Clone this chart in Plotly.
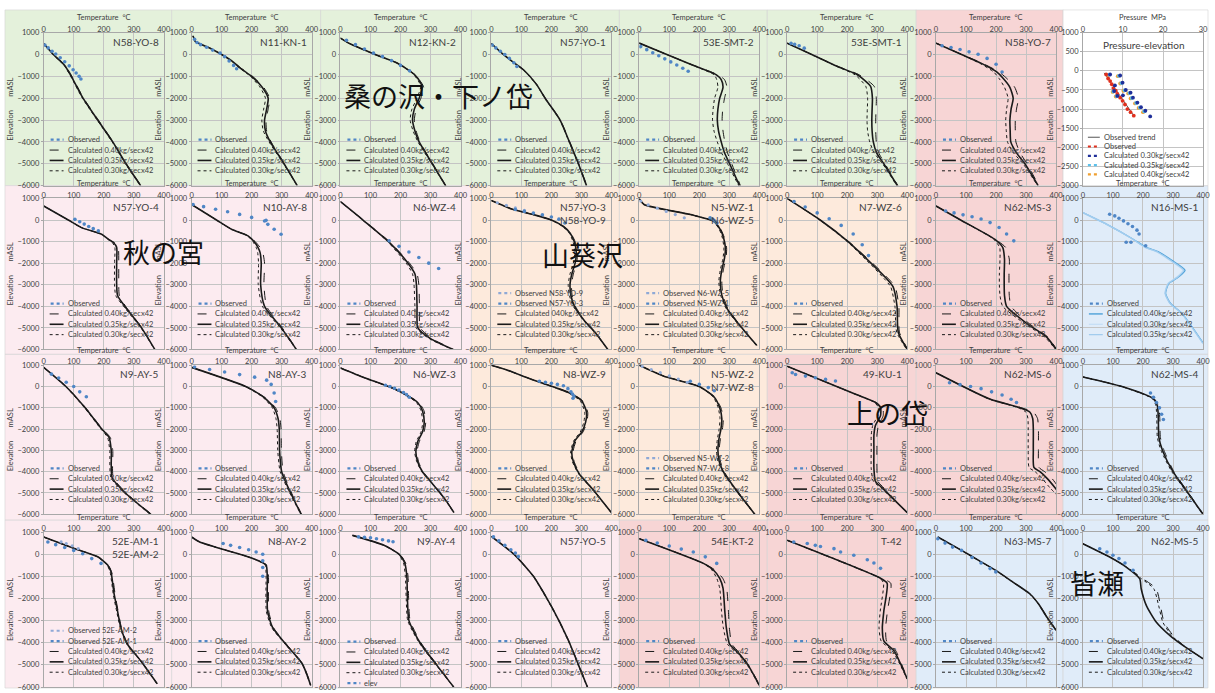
import plotly.graph_objects as go

W, H = 1215, 693

# ---------------- data (temperature degC vs elevation mASL) ----------------
N58_YO_8 = dict(z=[500, 0, -500, -1000, -2000, -3000, -4000, -5000, -6000],
                c40=[0, 33, 72, 94, 133, 182, 231, 275, 324],
                c35=[0, 32, 70, 92, 131, 180, 230, 274, 323],
                c30=[0, 31, 68, 90, 129, 178, 228, 272, 322],
                ot=[4, 15, 28, 40, 55, 70, 85, 98, 108, 118, 124],
                oz=[430, 300, 150, 20, -150, -330, -520, -700, -850, -1000, -1120])
N11_KN_1 = dict(z=[850, 600, 300, 0, -300, -600, -1000, -1500, -2000, -2500, -3000, -3500, -4000, -5000, -6000],
                c40=[5, 12, 60, 100, 135, 162, 203, 240, 260, 255, 248, 250, 265, 309, 352],
                c35=[5, 12, 60, 100, 135, 160, 200, 235, 255, 250, 243, 246, 262, 308, 352],
                c30=[5, 12, 60, 100, 133, 158, 196, 228, 246, 240, 234, 239, 258, 306, 351],
                ot=[10, 18, 30, 50, 70, 95, 110, 125, 140, 150],
                oz=[700, 550, 450, 330, 200, 60, -100, -300, -500, -650])
N12_KN_2 = dict(z=[750, 500, 200, 0, -400, -900, -1300, -1500, -2000, -2500, -3000, -3500, -4000, -5000, -6000],
                c40=[0, 30, 80, 115, 190, 246, 270, 277, 268, 252, 246, 252, 265, 307, 351],
                c35=[0, 30, 80, 115, 190, 245, 267, 272, 262, 246, 240, 248, 262, 306, 350],
                c30=[0, 30, 80, 115, 190, 243, 263, 267, 255, 238, 232, 242, 258, 304, 349],
                ot=[20, 50, 80, 110, 140, 170, 200, 230],
                oz=[650, 450, 250, 60, -100, -280, -500, -750])
N57_YO_1 = dict(z=[500, 0, -250, -700, -1380, -2000, -3000, -4000, -5000, -6000],
                c40=[0, 41, 64, 108, 152, 180, 230, 261, 291, 318],
                c35=[0, 40, 63, 107, 151, 179, 229, 260, 290, 317],
                c30=[0, 40, 62, 106, 150, 178, 228, 259, 289, 316],
                ot=[3, 15, 30, 45, 60, 75, 85],
                oz=[430, 300, 150, 0, -180, -380, -550])
E53_SMT_2 = dict(z=[520, 0, -500, -930, -1150, -1500, -2000, -2500, -3000, -3500, -4000, -4500, -5000, -6000],
                 c40=[0, 92, 182, 262, 284, 292, 284, 278, 276, 279, 285, 294, 308, 337],
                 c35=[0, 92, 181, 257, 273, 279, 268, 262, 260, 264, 273, 284, 301, 334],
                 c30=[0, 91, 179, 250, 258, 262, 251, 246, 244, 249, 260, 274, 294, 331],
                 ot=[5, 25, 45, 65, 85, 105, 125, 145, 163],
                 oz=[360, 220, 80, -60, -200, -340, -480, -630, -770])
E53_SMT_1 = dict(z=[520, 0, -550, -930, -1460, -2000, -2500, -3000, -3500, -4000, -4500, -5000, -6000],
                 c40=[0, 82, 170, 240, 290, 297, 296, 295, 295, 297, 305, 326, 369],
                 c35=[0, 82, 168, 234, 278, 284, 283, 282, 283, 287, 298, 322, 367],
                 c30=[0, 81, 166, 226, 262, 268, 267, 266, 268, 275, 290, 318, 365],
                 ot=[13, 25, 40, 57],
                 oz=[515, 460, 400, 290])
N58_YO_7 = dict(z=[520, 0, -420, -800, -1100, -1500, -2000, -2500, -3000, -3500, -4000, -4500, -5000, -6000],
                c40=[0, 86, 157, 210, 236, 262, 274, 268, 264, 264, 266, 280, 303, 342],
                c35=[0, 85, 153, 202, 224, 246, 257, 250, 246, 247, 249, 268, 296, 340],
                c30=[0, 84, 148, 192, 210, 228, 240, 235, 232, 234, 238, 258, 290, 338],
                ot=[20, 50, 80, 110, 140, 170, 200, 220],
                oz=[400, 320, 230, 120, 10, -180, -450, -800])
N57_YO_4 = dict(z=[650, 0, -352, -659, -890, -1043, -1260, -2000, -3000, -3500, -4000, -5000, -6000],
                c40=[0, 82, 126, 193, 216, 235, 248, 250, 250, 252, 273, 327, 370],
                c35=[0, 82, 126, 193, 215, 232, 243, 243, 243, 246, 270, 326, 370],
                c30=[0, 82, 126, 192, 213, 228, 237, 236, 236, 240, 266, 324, 369],
                ot=[104, 120, 135, 150, 165, 182],
                oz=[30, -80, -190, -300, -400, -505])
N10_AY_8 = dict(z=[720, 0, -430, -735, -1000, -1270, -1500, -2000, -3000, -4000, -5000, -6000],
                c40=[0, 83, 133, 190, 212, 228, 237, 243, 241, 250, 302, 350],
                c35=[0, 83, 133, 188, 208, 221, 228, 232, 230, 243, 299, 349],
                c30=[0, 83, 133, 186, 204, 215, 220, 223, 222, 236, 296, 348],
                ot=[5, 40, 80, 120, 160, 200, 243, 248, 254, 275, 298],
                oz=[720, 620, 500, 380, 260, 120, -45, -15, -200, -430, -660])
N6_WZ_4 = dict(z=[850, 0, -1000, -2000, -2500, -3000, -4000, -5000, -5500, -6000],
               c40=[0, 76, 163, 230, 255, 261, 263, 266, 305, 377],
               c35=[0, 75, 160, 225, 248, 253, 255, 258, 300, 375],
               c30=[0, 74, 157, 219, 240, 245, 248, 252, 296, 373],
               ot=[162, 195, 228, 261, 294, 327],
               oz=[-967, -1220, -1480, -1740, -2000, -2250])
N57_YO_3 = dict(z=[900, 500, 250, 0, -300, -600, -1000, -1500, -2000, -2500, -3000, -3500, -4000, -4700, -5200, -6000],
                c40=[0, 70, 140, 200, 241, 264, 279, 287, 284, 273, 267, 269, 280, 313, 346, 388],
                c35=[0, 70, 140, 200, 240, 262, 276, 283, 279, 268, 262, 265, 277, 312, 345, 388],
                c30=[0, 70, 140, 199, 238, 259, 272, 278, 273, 262, 256, 260, 273, 310, 344, 387],
                ot=[80, 110, 140, 170, 200, 225, 245],
                oz=[490, 400, 320, 240, 140, 40, -135],
                ot2=[20, 50, 80, 110],
                oz2=[800, 680, 560, 450])
N5_WZ_1 = dict(z=[1000, 720, 253, -57, -446, -835, -1300, -1770, -2310, -2860, -3480, -4100, -4720, -5270, -5810],
               c40=[0, 16, 171, 249, 272, 284, 291, 289, 280, 275, 279, 295, 327, 359, 392],
               c35=[0, 16, 171, 248, 270, 281, 287, 284, 275, 270, 275, 292, 325, 358, 391],
               c30=[0, 16, 170, 246, 267, 277, 282, 279, 270, 265, 271, 289, 323, 357, 390],
               ot=[236, 245, 252, 259],
               oz=[100, 30, -50, -135],
               ot2=[5, 30, 60, 90, 120, 150],
               oz2=[880, 700, 550, 400, 250, 100])
N7_WZ_6 = dict(z=[1000, 0, -1000, -2100, -2700, -3100, -4000, -5200, -6000],
               c40=[0, 110, 205, 292, 336, 360, 372, 374, 402],
               c35=[0, 110, 203, 287, 330, 353, 366, 370, 400],
               c30=[0, 109, 200, 281, 322, 345, 359, 365, 398],
               ot=[23, 60, 100, 140, 180, 220, 250, 271],
               oz=[860, 600, 330, 60, -250, -650, -1150, -1650])
N62_MS_3 = dict(z=[650, 0, -890, -1273, -1810, -2500, -3000, -3500, -4000, -4800, -5420, -6000],
                c40=[0, 82, 197, 232, 244, 243, 243, 244, 250, 310, 372, 402],
                c35=[0, 82, 195, 222, 228, 227, 227, 228, 235, 303, 368, 400],
                c30=[0, 81, 192, 212, 213, 211, 211, 213, 222, 295, 362, 398],
                ot=[32, 60, 90, 120, 150, 180, 210, 235, 259],
                oz=[416, 330, 240, 150, 50, -120, -350, -650, -966])
N16_MS_1 = dict(z=[342, -270, -880, -1260, -1490, -1870, -2330, -2640, -2940, -3400, -3860, -4320, -4930, -5700],
                c40=[0, 89, 166, 209, 253, 296, 340, 318, 286, 275, 291, 329, 362, 400],
                c35=[0, 89, 165, 207, 250, 292, 336, 316, 285, 274, 290, 328, 361, 399],
                c30=[0, 88, 164, 205, 247, 289, 332, 313, 283, 273, 289, 327, 360, 398],
                ot=[106, 120, 135, 150, 165, 180, 187, 89, 144, 160, 209],
                oz=[190, 80, -40, -170, -300, -470, -650, 266, -1030, -1030, -1190])
N9_AY_5 = dict(z=[900, 0, -1000, -1967, -2400, -3000, -4285, -5000, -6000],
               c40=[0, 75, 140, 194, 222, 230, 232, 275, 359],
               c35=[0, 74, 138, 192, 218, 225, 228, 272, 357],
               c30=[0, 73, 136, 189, 213, 220, 224, 269, 355],
               ot=[26, 50, 75, 100, 120, 142],
               oz=[583, 400, 200, 0, -250, -483])
N8_AY_3 = dict(z=[900, 0, -500, -1000, -1500, -2000, -3000, -4000, -5000, -6000],
               c40=[0, 181, 243, 280, 294, 298, 299, 305, 333, 366],
               c35=[0, 180, 240, 275, 288, 292, 293, 300, 330, 365],
               c30=[0, 179, 237, 269, 281, 285, 287, 295, 327, 364],
               ot=[10, 60, 110, 160, 210, 250, 265, 275, 280],
               oz=[920, 800, 680, 560, 440, 300, 100, -300, -700])
N6_WZ_3 = dict(z=[876, 413, -50, -437, -747, -1133, -1674, -2140, -2600, -3065, -3530, -4000, -4456, -5230, -5920],
               c40=[0, 80, 169, 226, 261, 278, 284, 278, 262, 255, 260, 275, 301, 346, 378],
               c35=[0, 80, 169, 224, 257, 273, 279, 273, 257, 251, 257, 273, 300, 345, 378],
               c30=[0, 80, 168, 222, 253, 268, 274, 268, 252, 247, 254, 271, 299, 344, 377],
               ot=[150, 165, 180, 195, 210, 220, 229],
               oz=[60, 0, -80, -170, -280, -380, -500])
N8_WZ_9 = dict(z=[1000, 800, 335, -50, -280, -670, -1210, -1674, -2140, -2530, -3065, -3530, -4150, -4765, -5925],
               c40=[0, 47, 135, 214, 259, 304, 321, 318, 305, 283, 272, 276, 297, 335, 400],
               c35=[0, 47, 135, 213, 257, 301, 317, 314, 301, 279, 268, 273, 295, 334, 400],
               c30=[0, 47, 134, 211, 254, 296, 311, 308, 296, 275, 264, 270, 293, 333, 399],
               ot=[160, 180, 200, 220, 240, 255, 265, 270, 275, 272],
               oz=[250, 200, 150, 100, 40, -100, -250, -350, -450, -550])
N5_WZ_2 = dict(z=[1000, 500, 0, -500, -1000, -1500, -2000, -2500, -3000, -3500, -4000, -5000, -6000],
               c40=[0, 80, 200, 252, 272, 280, 277, 270, 266, 270, 283, 332, 386],
               c35=[0, 80, 200, 250, 268, 275, 272, 265, 262, 266, 280, 330, 385],
               c30=[0, 80, 199, 247, 263, 269, 266, 260, 257, 262, 277, 328, 384],
               ot=[170, 200, 230, 250],
               oz=[250, 100, -50, -200],
               ot2=[10, 40, 70, 100, 130, 160],
               oz2=[950, 800, 650, 500, 350, 200])
KU_49_1 = dict(z=[950, -360, -747, -980, -1365, -1830, -2290, -2910, -3840, -4450, -4760, -5380, -5920],
               c40=[0, 228, 296, 318, 320, 304, 299, 299, 299, 302, 322, 363, 400],
               c35=[0, 228, 294, 311, 311, 294, 289, 289, 289, 294, 317, 361, 400],
               c30=[0, 227, 291, 304, 302, 285, 280, 280, 280, 287, 313, 359, 399],
               ot=[17, 28, 61, 94, 128, 161],
               oz=[645, 567, 490, 413, 335, 258])
N62_MS_6 = dict(z=[645, -590, -1000, -1210, -1500, -2000, -3000, -3800, -4000, -4300, -4765, -5200],
                c40=[0, 179, 285, 325, 338, 341, 341, 343, 362, 385, 410, 430],
                c35=[0, 179, 280, 313, 322, 324, 324, 326, 346, 369, 397, 420],
                c30=[0, 178, 275, 300, 306, 307, 307, 310, 330, 352, 380, 410],
                ot=[45, 80, 115, 150, 185, 220, 250, 268],
                oz=[180, 90, 0, -100, -250, -400, -600, -750])
N62_MS_4 = dict(z=[450, 0, -576, -900, -1500, -2400, -3000, -4000, -5000, -6000],
                c40=[0, 131, 237, 252, 256, 258, 270, 303, 352, 401],
                c35=[0, 130, 235, 248, 251, 253, 265, 300, 350, 400],
                c30=[0, 129, 232, 243, 246, 248, 260, 296, 348, 399],
                ot=[225, 235, 245, 255, 262, 268],
                oz=[-300, -500, -750, -1000, -1300, -1550])
E52_AM_1 = dict(z=[776, 255, -118, -490, -788, -1235, -1830, -2576, -3320, -4067, -4812, -5850],
                c40=[0, 102, 180, 214, 226, 232, 238, 248, 259, 280, 324, 378],
                c35=[0, 102, 180, 213, 224, 229, 235, 246, 257, 279, 323, 378],
                c30=[0, 102, 179, 211, 221, 226, 232, 243, 255, 277, 322, 377],
                ot=[14, 40, 70, 100, 130, 160, 191],
                oz=[553, 430, 300, 170, 20, -200, -416],
                ot2=[58, 75, 95, 115],
                oz2=[553, 480, 380, 255])
N8_AY_2 = dict(z=[776, 550, -190, -490, -1000, -2576, -3320, -4067, -4960, -5930],
               c40=[0, 27, 204, 250, 256, 257, 273, 316, 370, 398],
               c35=[0, 27, 204, 248, 252, 253, 270, 314, 369, 397],
               c30=[0, 27, 203, 245, 248, 249, 267, 312, 368, 396],
               ot=[105, 130, 160, 190, 215, 237, 237, 237, 237],
               oz=[480, 400, 300, 200, 100, 0, -300, -600, -1000])
N9_AY_4 = dict(z=[850, 400, 0, -400, -1000, -2000, -3000, -4000, -5000, -6000],
               c40=[40, 146, 197, 217, 225, 227, 232, 268, 322, 378],
               c35=[40, 145, 195, 214, 221, 223, 228, 265, 320, 377],
               c30=[40, 144, 193, 210, 216, 219, 224, 262, 318, 376],
               ot=[60, 80, 100, 120, 140, 160, 175],
               oz=[780, 760, 740, 700, 650, 600, 560])
N57_YO_5 = dict(z=[800, 0, -1000, -2000, -3000, -4000, -5000, -6000],
                c40=[0, 76, 141, 186, 226, 261, 291, 321],
                c35=[0, 75, 140, 185, 225, 260, 290, 320],
                c30=[0, 74, 139, 184, 224, 259, 289, 319],
                ot=[7, 25, 45, 65, 80, 90],
                oz=[780, 600, 400, 200, 50, -110])
E54_KT_2 = dict(z=[702, -416, -714, -1087, -1533, -2576, -3320, -4067, -4514, -5110, -5930],
                c40=[0, 215, 252, 278, 291, 297, 300, 309, 338, 369, 401],
                c35=[0, 214, 247, 268, 279, 285, 290, 301, 334, 367, 400],
                c30=[0, 213, 242, 258, 268, 274, 280, 294, 330, 365, 399],
                ot=[22, 60, 100, 140, 180, 220, 258],
                oz=[626, 500, 370, 230, 100, -120, -416])
T_42 = dict(z=[627, -1087, -1310, -2576, -3320, -3918, -4365, -4961, -5630],
            c40=[0, 313, 345, 334, 328, 331, 362, 381, 401],
            c35=[0, 311, 333, 322, 317, 322, 356, 378, 400],
            c30=[0, 309, 321, 310, 306, 313, 350, 375, 399],
            ot=[22, 67, 94, 111, 156, 178, 222, 267, 289, 311],
            oz=[553, 480, 400, 350, 250, 100, -50, -250, -400, -640])
N63_MS_7 = dict(z=[775, 172, -280, -732, -1259, -1786, -2238, -2840, -3443],
                c40=[6, 85, 142, 199, 256, 313, 342, 370, 401],
                c35=[6, 85, 142, 199, 256, 312, 341, 369, 400],
                c30=[6, 84, 141, 198, 255, 311, 340, 368, 399],
                ot=[6, 30, 55, 85, 120, 150, 180, 199],
                oz=[700, 500, 320, 170, -150, -400, -650, -800])
N62_MS_5 = dict(z=[473, -130, -581, -1108, -1560, -2313, -3066, -3669, -4120, -4723],
                c40=[0, 89, 146, 200, 244, 258, 270, 300, 335, 400],
                c35=[0, 89, 144, 189, 194, 211, 244, 289, 333, 400],
                c30=[0, 89, 145, 195, 236, 252, 266, 295, 333, 400],
                ot=[56, 80, 100, 120, 140, 167],
                oz=[247, 100, -50, -200, -400, -730])

# pressure-elevation panel (MPa vs mASL)
PR_TREND_P = [5.3, 12.7]
PR_TREND_Z = [-52, -1172]
PR_OBS_P = [5.8, 6.3, 6.8, 7.2, 7.6, 8.2, 8.6, 9.3, 9.9, 10.5, 11.1, 11.9, 12.7]
PR_OBS_Z = [-95, -200, -267, -350, -450, -520, -600, -700, -784, -880, -1000, -1080, -1172]
PR_C30_P = [6.8, 9.3, 9.9, 10.7, 7.8, 8.6, 11.9, 12.5, 13.6, 14.5, 15.6, 16.8, 8.0, 10.0]
PR_C30_Z = [-95, -121, -310, -500, -526, -655, -569, -700, -828, -950, -1043, -1190, -380, -640]
PR_C35_P = [6.5, 9.0, 9.6, 10.4, 7.6, 8.4, 11.6, 12.2, 13.3, 14.2, 15.3]
PR_C35_Z = [-100, -130, -320, -510, -540, -660, -580, -710, -840, -960, -1060]
PR_C40_P = [6.2, 8.7, 9.3, 10.1, 7.4, 8.2, 11.3, 11.9, 13.0, 13.9, 15.0]
PR_C40_Z = [-110, -140, -330, -520, -550, -670, -590, -720, -850, -970, -1080]

# ---------------- layout helpers ----------------
COL_X0 = [42, 191, 341, 493, 642, 791, 941, 1089]
ROW_Y = [(29, 184), (197, 350), (366, 517), (535, 692)]
PW = 121

GREEN, PINK, PEACH, SALMON, BLUE, WHITE = '#e4f1db', '#fcebf0', '#fdeadc', '#f7d5d5', '#e0ecf9', '#ffffff'

LEG_STD = [('obs', 'Observed'), ('c40', 'Calculated 0.40kg/secx42'),
           ('c35', 'Calculated 0.35kg/secx42'), ('c30', 'Calculated 0.30kg/secx42')]
LEG_040 = [('obs', 'Observed'), ('c40', 'Calculated 040kg/secx42'),
           ('c35', 'Calculated 0.35kg/secx42'), ('c30', 'Calculated 0.30kg/secx42')]

PANELS = [
    (0, 0, N58_YO_8, ['N58-YO-8'], GREEN, LEG_STD),
    (0, 1, N11_KN_1, ['N11-KN-1'], GREEN, LEG_STD),
    (0, 2, N12_KN_2, ['N12-KN-2'], GREEN, LEG_STD),
    (0, 3, N57_YO_1, ['N57-YO-1'], GREEN, LEG_STD),
    (0, 4, E53_SMT_2, ['53E-SMT-2'], GREEN, LEG_STD),
    (0, 5, E53_SMT_1, ['53E-SMT-1'], GREEN, LEG_040),
    (0, 6, N58_YO_7, ['N58-YO-7'], SALMON, LEG_STD),
    (1, 0, N57_YO_4, ['N57-YO-4'], PINK, LEG_STD),
    (1, 1, N10_AY_8, ['N10-AY-8'], PINK, LEG_STD),
    (1, 2, N6_WZ_4, ['N6-WZ-4'], PINK, LEG_STD),
    (1, 3, N57_YO_3, ['N57-YO-3', 'N58-YO-9'], PEACH,
     [('obs2', 'Observed N58-YO-9'), ('obs', 'Observed N57-YO-3'), ('c40', 'Calculated 040kg/secx42'),
      ('c35', 'Calculated 0.35kg/secx42'), ('c30', 'Calculated 0.30kg/secx42')]),
    (1, 4, N5_WZ_1, ['N5-WZ-1', 'N6-WZ-5'], PEACH,
     [('obs2', 'Observed N6-WZ-5'), ('obs', 'Observed N5-WZ-1'), ('c40', 'Calculated 0.40kg/secx42'),
      ('c35', 'Calculated 0.35kg/secx42'), ('c30', 'Calculated 0.30kg/secx42')]),
    (1, 5, N7_WZ_6, ['N7-WZ-6'], PEACH, LEG_STD),
    (1, 6, N62_MS_3, ['N62-MS-3'], SALMON, LEG_STD),
    (1, 7, N16_MS_1, ['N16-MS-1'], BLUE,
     [('obs', 'Observed'), ('c40', 'Calculated 0.40kg/secx42'),
      ('c30', 'Calculated 0.30kg/secx42'), ('c35', 'Calculated 0.35kg/secx42')]),
    (2, 0, N9_AY_5, ['N9-AY-5'], PINK, LEG_STD),
    (2, 1, N8_AY_3, ['N8-AY-3'], PINK, LEG_STD),
    (2, 2, N6_WZ_3, ['N6-WZ-3'], PINK, LEG_STD),
    (2, 3, N8_WZ_9, ['N8-WZ-9'], PEACH, LEG_STD),
    (2, 4, N5_WZ_2, ['N5-WZ-2', 'N7-WZ-8'], PEACH,
     [('obs2', 'Observed N5-WZ-2'), ('obs', 'Observed N7-WZ-8'), ('c40', 'Calculated 0.40kg/secx42'),
      ('c35', 'Calculated 0.35kg/secx42'), ('c30', 'Calculated 0.30kg/secx42')]),
    (2, 5, KU_49_1, ['49-KU-1'], SALMON, LEG_STD),
    (2, 6, N62_MS_6, ['N62-MS-6'], SALMON, LEG_STD),
    (2, 7, N62_MS_4, ['N62-MS-4'], BLUE, LEG_STD),
    (3, 0, E52_AM_1, ['52E-AM-1', '52E-AM-2'], PINK,
     [('obs2', 'Observed 52E-AM-2'), ('obs', 'Observed 52E-AM-1'), ('c40', 'Calculated 0.40kg/secx42'),
      ('c35', 'Calculated 0.35kg/secx42'), ('c30', 'Calculated 0.30kg/secx42')]),
    (3, 1, N8_AY_2, ['N8-AY-2'], PINK, LEG_STD),
    (3, 2, N9_AY_4, ['N9-AY-4'], PINK, LEG_STD + [('obs', 'elev')]),
    (3, 3, N57_YO_5, ['N57-YO-5'], PINK, LEG_STD),
    (3, 4, E54_KT_2, ['54E-KT-2'], SALMON, LEG_STD),
    (3, 5, T_42, ['T-42'], SALMON, LEG_STD),
    (3, 6, N63_MS_7, ['N63-MS-7'], BLUE, LEG_STD),
    (3, 7, N62_MS_5, ['N62-MS-5'], BLUE, LEG_STD),
]

TXT = '#404040'
FONT = 'Lato, Liberation Sans, sans-serif'
OBS_C = '#4f86c6'
OBS2_C = '#8fa9d6'
LINE_C = '#1a1a1a'


def fx(x):
    return x / W


def fy(y):
    return 1 - y / H


fig = go.Figure()
shapes = []
annotations = []
layout_axes = {}

STYLE = {
    'c40': dict(color=LINE_C, width=1.0, dash='dash'),
    'c35': dict(color=LINE_C, width=1.6, dash='solid'),
    'c30': dict(color=LINE_C, width=1.0, dash='dot'),
}
BLUE_STYLE = {
    'c40': dict(color='#4ea1d8', width=1.4, dash='solid'),
    'c35': dict(color='#9fcbee', width=1.2, dash='solid'),
    'c30': dict(color='#c3def5', width=1.2, dash='solid'),
}


def text_ann(x, y, text, size=7.5, xanchor='center', color=TXT, family=FONT):
    annotations.append(dict(x=fx(x), y=fy(y), xref='paper', yref='paper', text=text, showarrow=False,
                            xanchor=xanchor, yanchor='middle', borderpad=0,
                            font=dict(size=size, color=color, family=family)))


def panel_rect(row, col, color):
    x0 = COL_X0[col]
    left = 3 if col == 0 else x0 - 20
    right = W if col == 7 else COL_X0[col + 1] - 20
    top, bot = [(6, 184), (184, 355), (355, 523), (523, 693)][row]
    shapes.append(dict(type='rect', xref='paper', yref='paper', layer='below',
                       x0=fx(left), x1=fx(right), y0=fy(bot), y1=fy(top),
                       fillcolor=color, line=dict(color='#d4d4d4', width=0.6)))


for (row, col, d, names, bg, leg) in PANELS:
    panel_rect(row, col, bg)
panel_rect(0, 7, WHITE)


def add_axes(i, row, col, xr, yr, xdt, ydt, xtitle):
    x0 = COL_X0[col]
    top, bot = ROW_Y[row]
    sfx = '' if i == 1 else str(i)
    layout_axes['xaxis' + sfx] = dict(
        domain=[fx(x0), fx(x0 + PW)], anchor='y' + sfx, side='top', range=xr, dtick=xdt,
        showgrid=True, gridcolor='#c4c4c4', gridwidth=0.8, showline=True, mirror=True,
        linecolor='#a8a8a8', linewidth=0.8, zeroline=False, ticks='', ticklabelstandoff=-3,
        tickfont=dict(size=7.5, color=TXT, family=FONT), fixedrange=True)
    layout_axes['yaxis' + sfx] = dict(
        domain=[fy(bot), fy(top)], anchor='x' + sfx, range=yr, dtick=ydt,
        showgrid=True, gridcolor='#c4c4c4', gridwidth=0.8, showline=True, mirror=True,
        linecolor='#a8a8a8', linewidth=0.8, zeroline=False, ticks='outside', ticklen=2,
        tickcolor='#a8a8a8', tickfont=dict(size=7.5, color=TXT, family=FONT),
        title=dict(text='Elevation\u00a0\u00a0\u00a0\u00a0\u00a0\u00a0\u00a0mASL',
                   font=dict(size=7.5, color=TXT, family=FONT), standoff=2),
        fixedrange=True)
    text_ann(x0 + PW / 2, top - 15, xtitle)
    return 'x' + sfx, 'y' + sfx


def add_legend(col, row, entries, styles, last_off=15):
    x0 = COL_X0[col]
    top, bot = ROW_Y[row]
    n = len(entries)
    step = 10.5
    y_first = bot - last_off - step * (n - 1)
    for k, (kind, label) in enumerate(entries):
        yy = y_first + k * step
        if kind in ('obs', 'obs2'):
            c = OBS_C if kind == 'obs' else OBS2_C
            shapes.append(dict(type='line', xref='paper', yref='paper', x0=fx(x0 + 7), x1=fx(x0 + 20),
                               y0=fy(yy), y1=fy(yy), line=dict(color=c, width=2.2, dash='dot')))
        else:
            st = styles[kind]
            shapes.append(dict(type='line', xref='paper', yref='paper', x0=fx(x0 + 6), x1=fx(x0 + 20),
                               y0=fy(yy), y1=fy(yy), line=dict(color=st['color'], width=st['width'],
                                                               dash=st['dash'])))
        text_ann(x0 + 23, yy, label, xanchor='left')


idx = 0
for (row, col, d, names, bg, leg) in PANELS:
    idx += 1
    if idx == 8:
        idx += 1  # axis 8 reserved for pressure panel
    xa, ya = add_axes(idx, row, col, [0, 400], [-6000, 1000], 100, 1000, 'Temperature\u00a0\u00a0°C')
    styles = BLUE_STYLE if d is N16_MS_1 else STYLE
    for key in ('c40', 'c30', 'c35'):
        fig.add_trace(go.Scatter(x=d[key], y=d['z'], xaxis=xa, yaxis=ya, mode='lines',
                                 line=dict(shape='spline', smoothing=0.6, **styles[key]),
                                 showlegend=False, hoverinfo='skip'))
    if 'ot2' in d:
        fig.add_trace(go.Scatter(x=d['ot2'], y=d['oz2'], xaxis=xa, yaxis=ya, mode='markers',
                                 marker=dict(size=3.2, color=OBS2_C), showlegend=False))
    fig.add_trace(go.Scatter(x=d['ot'], y=d['oz'], xaxis=xa, yaxis=ya, mode='markers',
                             marker=dict(size=3.6, color=OBS_C), showlegend=False))
    x0 = COL_X0[col]
    top, bot = ROW_Y[row]
    for k, nm in enumerate(names):
        text_ann(x0 + 117, top + 9 + k * 13, nm, size=10, xanchor='right')
    add_legend(col, row, leg, styles, last_off=4 if d is N9_AY_4 else 15)

# pressure panel
xa, ya = add_axes(8, 0, 7, [0, 30], [-3000, 1000], 10, 500, 'Pressure\u00a0\u00a0MPa')
fig.add_trace(go.Scatter(x=PR_TREND_P, y=PR_TREND_Z, xaxis=xa, yaxis=ya, mode='lines',
                         line=dict(color='#555555', width=1), showlegend=False))
for P, Z, c in [(PR_C40_P, PR_C40_Z, '#f0a030'), (PR_C35_P, PR_C35_Z, '#5bc0eb'),
                (PR_OBS_P, PR_OBS_Z, '#e0301e'), (PR_C30_P, PR_C30_Z, '#1f2f99')]:
    fig.add_trace(go.Scatter(x=P, y=Z, xaxis=xa, yaxis=ya, mode='markers',
                             marker=dict(size=3.8, color=c), showlegend=False))
text_ann(1150, 42, 'Pressure-elevation', size=10)
pr_leg = [('#555555', 'solid', 'Observed trend'), ('#e0301e', 'dot', 'Observed'),
          ('#1f2f99', 'dot', 'Calculated 0.30kg/secx42'), ('#5bc0eb', 'dot', 'Calculated 0.35kg/secx42'),
          ('#f0a030', 'dot', 'Calculated 0.40kg/secx42')]
for k, (c, dsh, label) in enumerate(pr_leg):
    yy = 135 + k * 9.4
    shapes.append(dict(type='line', xref='paper', yref='paper', x0=fx(1094), x1=fx(1106), y0=fy(yy), y1=fy(yy),
                       line=dict(color=c, width=1 if dsh == 'solid' else 2.2, dash=dsh)))
    text_ann(1109, yy, label, xanchor='left')

for text, x, y in [('桑の沢・下ノ岱', 440, 93), ('秋の宮', 163, 251), ('山葵沢', 585, 254),
                   ('上の岱', 892, 414), ('皆瀬', 1103, 586)]:
    text_ann(x, y, text, size=27, color='#111111', family='Noto Sans CJK JP')

fig.update_layout(width=W, height=H, margin=dict(l=0, r=0, t=0, b=0), paper_bgcolor='white',
                  plot_bgcolor='rgba(0,0,0,0)', shapes=shapes, annotations=annotations,
                  showlegend=False, **layout_axes)
fig.write_html('out.html', config={'displayModeBar': False},
               post_script="document.body.style.margin='0';document.body.style.overflow='hidden';")
